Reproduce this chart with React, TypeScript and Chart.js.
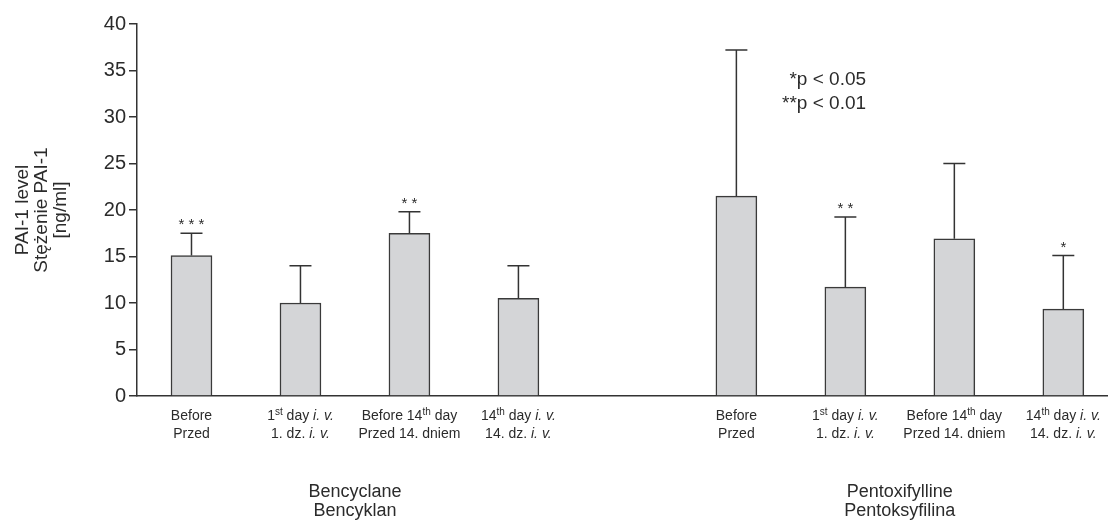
import React, { useEffect, useRef } from 'react';
import { Chart, registerables } from 'chart.js';

Chart.register(...registerables);

const FONT = '"Liberation Sans", Arial, sans-serif';
const INK = '#2b2b2b';
const AXIS = '#333333';
const BAR_FILL = '#d4d5d7';
const BAR_EDGE = '#3a3a3a';

// Nine category slots; slot 4 is the empty gap between the two drugs.
// Markup: ^sup^ = superscript, _it_ = italic
const slotLine1 = [
  'Before', '1^st^ day _i. v._', 'Before 14^th^ day', '14^th^ day _i. v._', '',
  'Before', '1^st^ day _i. v._', 'Before 14^th^ day', '14^th^ day _i. v._',
];
const slotLine2 = [
  'Przed', '1. dz. _i. v._', 'Przed 14. dniem', '14. dz. _i. v._', '',
  'Przed', '1. dz. _i. v._', 'Przed 14. dniem', '14. dz. _i. v._',
];
const means: (number | null)[] = [15.1, 10.0, 17.5, 10.5, null, 21.5, 11.7, 16.9, 9.35];
const sds: (number | null)[] = [2.4, 4.0, 2.3, 3.5, null, 15.7, 7.55, 8.1, 5.75];
const stars = ['***', '', '**', '', '', '', '**', '', '*'];

const groupLine1 = ['Bencyclane', 'Pentoxifylline'];
const groupLine2 = ['Bencyklan', 'Pentoksyfilina'];
const groupSlots = [[0, 1, 2, 3], [5, 6, 7, 8]];

const pNotes = ['*p < 0.05', '**p < 0.01'];
const NOTE_X = 6.19; // in slot units
const NOTE_Y = 33.4; // in data units (baseline of first line)

const yTitle = ['PAI-1 level', 'Stężenie PAI-1', '[ng/ml]'];
const Y_MIN = 0;
const Y_MAX = 40;
const Y_STEP = 5;
const X_MIN = -0.5;
const X_MAX = 8.41;

const points = means
  .map((v, i) => (v == null ? null : { x: i, y: v }))
  .filter((p) => p !== null) as { x: number; y: number }[];

function drawRich(ctx: CanvasRenderingContext2D, text: string, cx: number, baseline: number, size: number) {
  const parts = text.split(/(\^[^^]*\^|_[^_]*_)/).filter((s) => s.length);
  const segs = parts.map((p) => {
    if (p.startsWith('^')) return { t: p.slice(1, -1), font: `${Math.round(size * 0.68)}px ${FONT}`, dy: -size * 0.38, w: 0 };
    if (p.startsWith('_')) return { t: p.slice(1, -1), font: `italic ${size}px ${FONT}`, dy: 0, w: 0 };
    return { t: p, font: `${size}px ${FONT}`, dy: 0, w: 0 };
  });
  let total = 0;
  for (const s of segs) {
    ctx.font = s.font;
    s.w = ctx.measureText(s.t).width;
    total += s.w;
  }
  let x = cx - total / 2;
  ctx.textAlign = 'left';
  ctx.textBaseline = 'alphabetic';
  for (const s of segs) {
    ctx.font = s.font;
    ctx.fillText(s.t, x, baseline + s.dy);
    x += s.w;
  }
}

const overlay = {
  id: 'overlay',
  afterDatasetsDraw(chart: any) {
    const ctx: CanvasRenderingContext2D = chart.ctx;
    const xs = chart.scales.x;
    const ys = chart.scales.y;
    const ca = chart.chartArea;
    const meta = chart.getDatasetMeta(0);
    ctx.save();
    ctx.fillStyle = INK;
    meta.data.forEach((bar: any, j: number) => {
      const slot = points[j].x;
      const m = means[slot] as number;
      const sd = sds[slot] as number;
      const base = ys.getPixelForValue(m);
      const top = ys.getPixelForValue(m + sd);
      ctx.strokeStyle = AXIS;
      ctx.lineWidth = 1.5;
      ctx.beginPath();
      ctx.moveTo(bar.x, base);
      ctx.lineTo(bar.x, top);
      ctx.moveTo(bar.x - 11, top);
      ctx.lineTo(bar.x + 11, top);
      ctx.stroke();
      if (stars[slot]) {
        ctx.font = `15px ${FONT}`;
        ctx.textAlign = 'center';
        ctx.textBaseline = 'alphabetic';
        ctx.fillText(stars[slot].split('').join(' '), bar.x, top - 4);
      }
    });

    slotLine1.forEach((t, i) => {
      if (!t) return;
      const cx = xs.getPixelForValue(i);
      drawRich(ctx, t, cx, ca.bottom + 24, 14);
      drawRich(ctx, slotLine2[i], cx, ca.bottom + 42, 14);
    });

    groupSlots.forEach((g, k) => {
      const cx = (xs.getPixelForValue(g[0]) + xs.getPixelForValue(g[g.length - 1])) / 2;
      drawRich(ctx, groupLine1[k], cx, ca.bottom + 101, 18);
      drawRich(ctx, groupLine2[k], cx, ca.bottom + 120, 18);
    });

    ctx.font = `19px ${FONT}`;
    ctx.textAlign = 'right';
    ctx.textBaseline = 'alphabetic';
    const nx = xs.getPixelForValue(NOTE_X);
    const ny = ys.getPixelForValue(NOTE_Y);
    pNotes.forEach((t, k) => ctx.fillText(t, nx, ny + k * 24));
    ctx.restore();
  },
};

export default function App() {
  const ref = useRef<HTMLCanvasElement | null>(null);
  useEffect(() => {
    if (!ref.current) return;
    const chart = new Chart(ref.current, {
      type: 'bar',
      data: {
        datasets: [
          {
            data: points as any,
            backgroundColor: BAR_FILL,
            borderColor: BAR_EDGE,
            borderWidth: 1.5,
            barThickness: 41,
          },
        ],
      },
      options: {
        animation: false,
        responsive: true,
        maintainAspectRatio: false,
        layout: { padding: { top: 24, right: 0, bottom: 0, left: 0 } },
        plugins: { legend: { display: false }, tooltip: { enabled: false } },
        scales: {
          x: {
            type: 'linear',
            min: X_MIN,
            max: X_MAX,
            offset: false,
            ticks: { display: false },
            grid: { display: false },
            border: { display: true, color: AXIS, width: 1.5 },
            afterFit: (s: any) => {
              s.height = 129;
            },
          },
          y: {
            min: Y_MIN,
            max: Y_MAX,
            ticks: { stepSize: Y_STEP, font: { family: FONT, size: 20 }, color: INK, padding: 3 },
            grid: { drawOnChartArea: false, drawTicks: true, tickLength: 8, color: AXIS, lineWidth: 1.5 },
            border: { display: true, color: AXIS, width: 1.5 },
            title: {
              display: true,
              text: yTitle,
              font: { family: FONT, size: 19, lineHeight: 1.0 },
              color: INK,
              padding: { top: 13, bottom: 0 },
            },
            afterFit: (s: any) => {
              s.width = 137;
            },
          },
        },
      } as any,
      plugins: [overlay],
    });
    return () => chart.destroy();
  }, []);
  return (
    <div style={{ position: 'absolute', left: 0, top: 0, width: 1108, height: 525 }}>
      <canvas ref={ref} />
    </div>
  );
}
